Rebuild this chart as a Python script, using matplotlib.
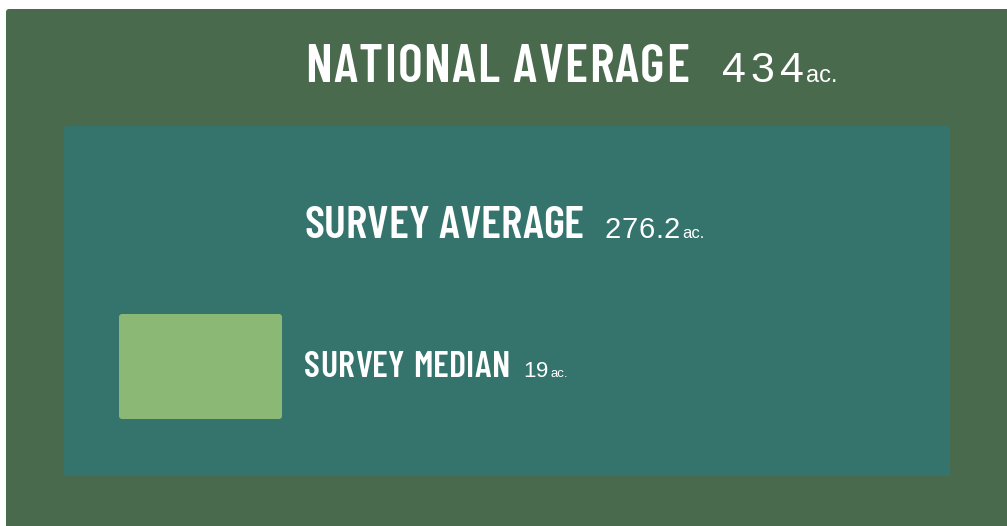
import matplotlib
matplotlib.use('Agg')
import matplotlib.pyplot as plt
from matplotlib.patches import FancyBboxPatch
from matplotlib import font_manager
from matplotlib.font_manager import FontProperties

# values (acres)
labels = ['NATIONAL AVERAGE', 'SURVEY AVERAGE', 'SURVEY MEDIAN']
values = [434, 276.2, 19]
value_text = ['434', '276.2', '19']
unit = 'ac.'

colors = ['#4a6a4d', '#35746d', '#8bb874']

# box extents in pixels: x0, y0, x1, y1 (layout)
boxes = [(6, 9, 1012, 532), (64, 126, 950, 476), (119, 314, 282, 419)]
label_pos = [(305, 82), (304, 238), (304, 377)]
label_end = [689, 584, 510]
num_x = [722, 604, 523]
label_size = [38, 33, 26]
num_size = [31, 21, 16]
unit_size = [17, 12, 9.5]
tracking = [5, 0.8, 0.5]


def pick(candidates, weight):
    # find an installed upright font file by family name and weight
    for name in candidates:
        hits = [f for f in font_manager.fontManager.ttflist
                if f.name == name and f.style == 'normal']
        if hits:
            best = min(hits, key=lambda f: abs(int(f.weight) - weight) if str(f.weight).isdigit() else 999)
            return best.fname
    return None


cond_file = pick(['Barlow Condensed', 'Roboto Condensed', 'Liberation Sans Narrow'], 600)
num_file = pick(['Liberation Sans', 'Arimo', 'Roboto'], 400)


def fp(fname, size, weight='normal'):
    if fname:
        return FontProperties(fname=fname, size=size)
    return FontProperties(family='DejaVu Sans', size=size, weight=weight)


W, H = 1007, 526
fig = plt.figure(figsize=(W / 100, H / 100), dpi=100)
ax = fig.add_axes([0, 0, 1, 1])
ax.set_xlim(0, W)
ax.set_ylim(H, 0)
ax.axis('off')
fig.patch.set_facecolor('white')

for (x0, y0, x1, y1), c in zip(boxes, colors):
    ax.add_patch(FancyBboxPatch((x0, y0), x1 - x0, y1 - y0,
                                boxstyle='round,pad=0,rounding_size=3',
                                facecolor=c, edgecolor='none'))

renderer = fig.canvas.get_renderer()


def right_edge(t):
    bb = t.get_window_extent(renderer=renderer)
    return bb.x1


def put_tracked(x, y, s, prop, spacing):
    # draw characters one by one with extra letter spacing
    texts = []
    for ch in s:
        t = ax.text(x, y, ch, fontproperties=prop, color='white',
                    ha='left', va='baseline')
        texts.append(t)
        x = right_edge(t) + spacing
    return texts, x - spacing


def put_fitted(x0, x1, y, s, prop):
    # spread the label so it ends at x1
    texts, end = put_tracked(x0, y, s, prop, 0)
    extra = (x1 - end) / (len(s) - 1)
    for k, t in enumerate(texts):
        t.set_x(t.get_position()[0] + k * extra)


for i, lab in enumerate(labels):
    lx, ly = label_pos[i]
    put_fitted(lx, label_end[i], ly, lab, fp(cond_file, label_size[i], 'bold'))
    _, x = put_tracked(num_x[i], ly, value_text[i], fp(num_file, num_size[i]), tracking[i])
    ax.text(x + 2, ly, unit, fontproperties=fp(num_file, unit_size[i]),
            color='white', ha='left', va='baseline')

fig.savefig('out.png', dpi=100, facecolor='white')
